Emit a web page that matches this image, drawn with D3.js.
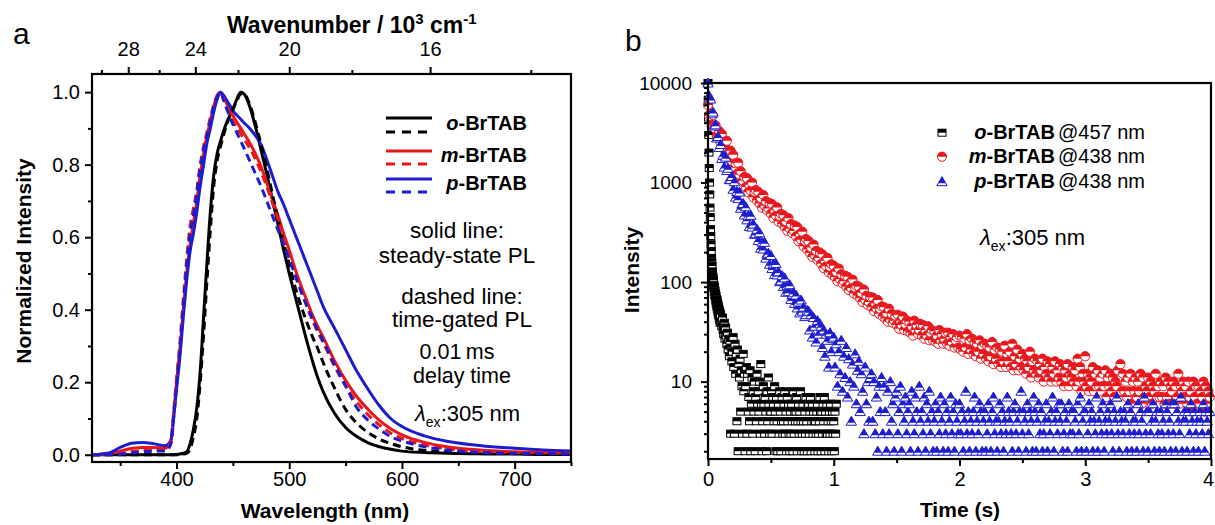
<!DOCTYPE html>
<html><head><meta charset="utf-8">
<script src="https://cdn.jsdelivr.net/npm/d3@7"></script>
<style>
html,body{margin:0;padding:0;background:#fff;}
svg{display:block;}
</style></head><body>
<svg id="c" width="1215" height="525"></svg>
<script>
// ---------------- DATA: panel a (normalized PL spectra) ----------------
const wavelength = [325,340,350,360,370,380,390,395,398,400,403,406,409,412,415,418,421,424,427,430,433,436,439,442,445,448,451,454,457,460,465,470,475,480,485,490,495,500,505,510,515,520,525,530,540,550,560,570,580,590,600,620,640,660,680,700,725,750];
const oSteady = [0,0,0,0,0,0,0,0,0,0.001,0.002,0.004,0.008,0.03,0.07,0.13,0.23,0.38,0.53,0.67,0.77,0.83,0.865,0.895,0.92,0.94,0.96,0.985,1.0,0.995,0.96,0.905,0.84,0.775,0.705,0.635,0.565,0.5,0.44,0.38,0.32,0.265,0.215,0.175,0.115,0.075,0.05,0.033,0.022,0.015,0.01,0.006,0.004,0.003,0.002,0.002,0.001,0.001];
const oGated  = [0,0,0,0,0,0,0,0,0,0,0.001,0.002,0.004,0.015,0.05,0.1,0.2,0.33,0.48,0.62,0.74,0.81,0.85,0.885,0.915,0.94,0.96,0.98,0.995,0.995,0.965,0.915,0.855,0.79,0.72,0.65,0.585,0.525,0.465,0.415,0.37,0.33,0.295,0.255,0.185,0.125,0.087,0.061,0.043,0.031,0.022,0.012,0.007,0.005,0.004,0.003,0.002,0.002];
const mSteady = [0,0.003,0.01,0.017,0.02,0.02,0.018,0.04,0.13,0.2,0.29,0.4,0.5,0.58,0.64,0.7,0.77,0.83,0.88,0.92,0.96,0.99,1.0,0.985,0.965,0.945,0.93,0.915,0.9,0.885,0.86,0.83,0.795,0.75,0.705,0.66,0.61,0.565,0.515,0.47,0.43,0.39,0.355,0.325,0.26,0.205,0.16,0.125,0.095,0.072,0.055,0.034,0.022,0.015,0.011,0.008,0.006,0.005];
const mGated  = [0,0,0.003,0.008,0.012,0.014,0.012,0.04,0.14,0.21,0.31,0.43,0.54,0.63,0.68,0.73,0.8,0.85,0.89,0.93,0.965,0.99,1.0,0.98,0.955,0.935,0.915,0.9,0.885,0.87,0.845,0.815,0.78,0.74,0.695,0.65,0.6,0.55,0.5,0.455,0.415,0.375,0.34,0.31,0.245,0.19,0.145,0.11,0.082,0.06,0.045,0.027,0.017,0.011,0.008,0.006,0.005,0.004];
const pSteady = [0,0.005,0.02,0.032,0.034,0.03,0.025,0.04,0.12,0.18,0.27,0.38,0.48,0.56,0.61,0.67,0.74,0.8,0.86,0.9,0.945,0.98,1.0,0.99,0.975,0.96,0.945,0.935,0.925,0.915,0.9,0.88,0.855,0.815,0.77,0.725,0.69,0.65,0.61,0.57,0.53,0.49,0.45,0.41,0.35,0.29,0.23,0.18,0.135,0.1,0.078,0.052,0.037,0.028,0.022,0.018,0.013,0.01];
const pGated  = [0,0,0.002,0.005,0.008,0.01,0.01,0.03,0.12,0.19,0.29,0.41,0.52,0.61,0.66,0.72,0.79,0.84,0.88,0.92,0.96,0.985,1.0,0.975,0.95,0.925,0.905,0.885,0.865,0.845,0.81,0.775,0.74,0.7,0.66,0.62,0.58,0.54,0.497,0.455,0.415,0.38,0.345,0.315,0.25,0.19,0.13,0.095,0.07,0.05,0.038,0.022,0.013,0.008,0.005,0.004,0.003,0.002];
const wavelengthTicks = [400,500,600,700];
const wavelengthMinor = [350,450,550,650,750];
const intensityTicksA = [0,0.2,0.4,0.6,0.8,1.0];
const intensityMinorA = [0.1,0.3,0.5,0.7,0.9];
const wavenumberTicks = [28,24,20,16];
const wavenumberMinor = [30,26,22,18,14];
const seriesNames = ["o","m","p"];

// ---------------- DATA: panel b (decay, counts) ----------------
const oEarlyStep = 0.002;   // sampling of first 0.1 s of o-BrTAB
const oTailStart = 0.10;
const oTailStep = 0.005;
const decayStep = 0.01;
const oDecayEarly = [10000,6800,4500,3000,2000,1400,1000,760,560,450,340,290,240,205,175,160,145,128,120,108,112,95,104,88,93,80,89,74,82,70,77,65,73,61,68,57,66,54,62,51,59,48,56,46,53,43,51,41,49,39];
const oDecayTail = [47,40,36,44,33,30,39,27,35,29,
 24,31,21,27,18,25,3,22,16,20,
 28,14,3,24,12,19,4,21,2,15,
 11,17,5,13,9,3,19,8,12,2,
 9,14,3,12,5,7,4,13,2,6,
 11,3,8,5,10,2,7,4,12,6,
 8,5,10,3,15,6,2,4,9,6,
 3,7,5,2,8,4,11,6,3,5,
 5,8,3,7,6,4,9,5,2,7,
 4,2,6,3,8,5,2,4,7,3,
 4,6,8,3,5,2,7,4,6,3,
 2,5,3,6,4,2,8,3,5,4,
 5,7,2,4,6,3,5,8,4,2,
 3,6,4,2,5,3,7,4,2,6,
 6,3,5,7,2,4,6,3,5,4,
 2,4,3,5,6,2,3,4,7,5,
 2,5,3,6,4,7,2,5,3,6,
 3,4,2,5,3,6,4,2,5,3,
 4,2,5,3,6];
const mDecay = [6000,4660,4940,3740,4740,3530,3760,2930,2960,3280,
 2520,3080,2200,2570,2220,2630,1840,2050,2090,1600,
 1900,1410,1560,1220,1580,1200,1300,1020,1040,1140,
 900,1110,800,950,830,1000,710,810,840,660,
 806,615,698,559,748,583,650,526,550,622,
 486,606,442,526,465,563,405,462,486,384,
 470,359,409,328,439,343,383,311,326,370,
 288,357,258,305,267,321,229,260,271,212,
 258,196,222,179,238,185,206,167,175,198,
 153,190,138,164,144,175,125,143,151,118,
 146,112,127,102,137,107,120,97,102,116,
 90,113,83,99,87,106,77,88,92,73,
 90,69,78,63,84,66,73,59,63,71,
 56,70,51,61,54,66,48,54,57,45,
 56,43,49,40,54,42,48,39,41,46,
 37,47,34,41,37,45,33,38,41,32,
 40,31,36,29,41,33,37,30,33,38,
 29,37,27,33,29,36,26,31,33,26,
 32,25,29,24,33,26,30,24,27,31,
 24,31,23,28,25,30,22,26,28,22,
 29,21,28,20,27,22,30,19,26,21,
 27,19,25,18,24,20,26,17,23,19,
 24,17,23,16,22,18,25,15,21,17,
 22,15,21,14,20,16,23,14,19,16,
 20,14,24,13,18,15,21,13,17,14,
 19,13,17,12,16,14,20,11,16,13,
 17,12,16,11,15,13,17,10,14,12,
 16,11,15,10,14,12,16,10,13,11,
 15,10,14,9,13,11,15,9,12,11,
 14,10,13,9,17,10,14,8,12,10,
 18,9,12,8,11,10,14,8,12,9,
 13,9,11,8,12,9,13,7,11,9,
 12,8,11,7,10,9,13,7,15,8,
 12,8,10,7,11,8,12,6,10,8,
 11,7,10,8,12,6,11,7,9,8,
 11,7,10,6,9,8,12,7,9,7,
 10,7,9,6,11,7,10,6,9,8,
 10,6,9,7,12,6,9,8,10,7,
 9,6,10,7,8,5,10,7,9,6,
 9,6,8,7,10,5,9,6,8,7];
const pDecay = [10000,7400,6900,4900,5100,3700,3800,2800,2900,2250,
 2410,1740,1880,1430,1800,1320,1390,1070,1070,1150,
 855,1020,714,814,689,802,552,607,616,472,
 571,422,464,361,468,357,383,302,306,339,
 261,313,219,252,215,251,174,192,195,151,
 185,137,152,119,154,118,127,101,103,116,
 90,110,79,92,80,94,67,75,78,61,
 74,55,63,49,66,51,56,45,47,52,
 51,33,47,28,44,36,25,41,30,38,
 36,22,33,18,30,26,14,31,20,27,
 28,14,24,9,20,12,26,8,18,11,
 22,7,17,10,4,15,9,19,6,13,
 16,5,12,8,3,14,6,10,4,11,
 12,4,10,3,7,2,9,5,11,3,
 9,5,2,8,3,10,4,6,2,7,
 8,3,5,9,2,6,4,7,3,5,
 6,2,8,4,3,7,5,2,9,4,
 5,3,7,2,6,4,8,3,5,2,
 4,6,2,5,3,7,4,2,6,3,
 5,2,4,7,3,5,2,6,4,3,
 6,3,5,2,4,8,3,5,2,4,
 3,5,7,2,4,3,6,5,2,4,
 5,2,3,6,4,2,5,7,3,4,
 2,4,6,3,5,2,4,3,7,5,
 4,3,2,5,6,3,4,2,5,8,
 3,5,4,2,6,3,5,4,2,7,
 5,2,4,6,3,5,2,3,4,6,
 2,4,3,5,7,2,4,5,3,6,
 4,6,2,3,5,4,2,6,3,5,
 3,5,4,2,6,3,7,2,4,5,
 5,2,3,6,4,5,2,4,3,7,
 2,4,5,3,6,2,4,3,5,4,
 6,3,2,5,4,7,3,2,5,4,
 3,5,4,2,6,3,5,2,4,3,
 4,2,6,3,5,4,2,7,3,5,
 2,5,3,4,6,2,4,5,3,2,
 5,3,4,2,6,5,3,4,2,6,
 3,6,2,5,4,3,7,2,4,5,
 4,2,5,3,6,4,2,5,3,4,
 2,5,4,3,6,2,5,4,3,5];
const timeTicks = [0,1,2,3,4];
const timeMinor = [0.5,1.5,2.5,3.5];
const countTicks = [10,100,1000,10000];
const decayLabels = [["o","@457 nm"],["m","@438 nm"],["p","@438 nm"]];

// ---------------- RENDER ----------------
const FONT = '"Liberation Sans", Arial, Helvetica, sans-serif';
const RED = "#e8171d", BLUE = "#1d1dcf", BLACK = "#000";
const svg = d3.select("#c").attr("font-family", FONT);

function styleAxis(sel, fs) {
  sel.select(".domain").remove();
  sel.selectAll("line").attr("stroke", "#000").attr("stroke-width", 2);
  sel.selectAll("text").attr("font-size", fs).attr("font-family", FONT).attr("fill", "#000");
}

// ===== Panel a =====
const xa = d3.scaleLinear().domain([325, 750]).range([92, 571]);
const ya = d3.scaleLinear().domain([-0.02, 1.05]).range([462, 74]);
const ga = svg.append("g");

ga.append("clipPath").attr("id", "clipA").append("rect")
  .attr("x", xa.range()[0]).attr("y", ya.range()[1])
  .attr("width", xa.range()[1] - xa.range()[0]).attr("height", ya.range()[0] - ya.range()[1]);

const lineA = d3.line().x((d, i) => xa(wavelength[i])).y(d => ya(d)).curve(d3.curveMonotoneX);
const curves = [
  { v: oSteady, c: BLACK, dash: null }, { v: mSteady, c: RED, dash: null }, { v: pSteady, c: BLUE, dash: null },
  { v: oGated, c: BLACK, dash: "8,5" }, { v: mGated, c: RED, dash: "8,5" }, { v: pGated, c: BLUE, dash: "8,5" }
];
const gc = ga.append("g").attr("clip-path", "url(#clipA)");
curves.forEach(s => {
  gc.append("path").attr("d", lineA(s.v)).attr("fill", "none").attr("stroke", s.c)
    .attr("stroke-width", 3).attr("stroke-dasharray", s.dash).attr("stroke-linejoin", "round");
});

// axes a
ga.append("g").attr("transform", `translate(${xa.range()[0]},0)`)
  .call(d3.axisLeft(ya).tickValues(intensityTicksA).tickFormat(d3.format(".1f")).tickSize(7).tickPadding(5))
  .call(s => styleAxis(s, 20));
ga.append("g").attr("transform", `translate(${xa.range()[0]},0)`)
  .call(d3.axisLeft(ya).tickValues(intensityMinorA).tickFormat("").tickSize(4)).call(s => styleAxis(s, 20));
ga.append("g").attr("transform", `translate(0,${ya.range()[0]})`)
  .call(d3.axisBottom(xa).tickValues(wavelengthTicks).tickSize(7).tickPadding(3))
  .call(s => styleAxis(s, 20));
ga.append("g").attr("transform", `translate(0,${ya.range()[0]})`)
  .call(d3.axisBottom(xa).tickValues(wavelengthMinor).tickFormat("").tickSize(4)).call(s => styleAxis(s, 20));
ga.append("g").attr("transform", `translate(0,${ya.range()[1]})`)
  .call(d3.axisTop(xa).tickValues(wavenumberTicks.map(k => 1e4 / k)).tickFormat((d, i) => wavenumberTicks[i]).tickSize(7).tickPadding(11))
  .call(s => styleAxis(s, 20));
ga.append("g").attr("transform", `translate(0,${ya.range()[1]})`)
  .call(d3.axisTop(xa).tickValues(wavenumberMinor.map(k => 1e4 / k)).tickFormat("").tickSize(4)).call(s => styleAxis(s, 20));
ga.append("rect").attr("x", xa.range()[0]).attr("y", ya.range()[1])
  .attr("width", xa.range()[1] - xa.range()[0]).attr("height", ya.range()[0] - ya.range()[1])
  .attr("fill", "none").attr("stroke", "#000").attr("stroke-width", 2.2);

// titles a
ga.append("text").attr("x", 13).attr("y", 44).attr("font-size", 30).text("a");
const wt = ga.append("text").attr("x", 227).attr("y", 33).attr("font-size", 23).attr("font-weight", "bold");
wt.append("tspan").text("Wavenumber / 10");
wt.append("tspan").attr("font-size", 15).attr("dy", -9).text("3");
wt.append("tspan").attr("dy", 9).text(" cm");
wt.append("tspan").attr("font-size", 15).attr("dy", -9).text("-1");
ga.append("text").attr("x", 325).attr("y", 518).attr("text-anchor", "middle")
  .attr("font-size", 21).attr("font-weight", "bold").text("Wavelength (nm)");
ga.append("text").attr("transform", "translate(31,261) rotate(-90)").attr("text-anchor", "middle")
  .attr("font-size", 21).attr("font-weight", "bold").text("Normalized Intensity");

// legend a
const legA = ga.append("g");
const legRows = [{ c: BLACK, y: [118, 132], ty: 130 }, { c: RED, y: [151, 164], ty: 162 }, { c: BLUE, y: [179, 192], ty: 190 }];
legRows.forEach((r, i) => {
  legA.append("line").attr("x1", 386).attr("x2", 432).attr("y1", r.y[0]).attr("y2", r.y[0]).attr("stroke", r.c).attr("stroke-width", 3.2);
  legA.append("line").attr("x1", 386).attr("x2", 432).attr("y1", r.y[1]).attr("y2", r.y[1]).attr("stroke", r.c).attr("stroke-width", 3.2).attr("stroke-dasharray", "9,7");
  const t = legA.append("text").attr("x", 527).attr("y", r.ty).attr("text-anchor", "end").attr("font-size", 20).attr("font-weight", "bold");
  t.append("tspan").attr("font-style", "italic").text(seriesNames[i]);
  t.append("tspan").text("-BrTAB");
});
const notes = [["solid line:", 457, 238, 22.5], ["steady-state PL", 457, 263, 22.5], ["dashed line:", 462, 304, 22.5], ["time-gated PL", 462, 327, 22.5], ["0.01\u2009ms", 457, 359, 21.5], ["delay time", 462, 383, 21.5]];
notes.forEach(n => ga.append("text").attr("x", n[1]).attr("y", n[2]).attr("text-anchor", "middle").attr("font-size", n[3]).text(n[0]));
function lambdaEx(g, x, y) {
  const t = g.append("text").attr("x", x).attr("y", y).attr("font-size", 22);
  t.append("tspan").attr("font-style", "italic").text("\u03BB");
  t.append("tspan").attr("font-size", 14).attr("dy", 6).text("ex");
  t.append("tspan").attr("dy", -6).text(":305 nm");
}
lambdaEx(ga, 415, 421);

// ===== Panel b =====
const xb = d3.scaleLinear().domain([0, 4]).range([708, 1211]);
const yb = d3.scaleLog().domain([1.67, 10000]).range([459, 83]);
const gb = svg.append("g");

// marker definitions (half-filled, Origin style)
const defs = svg.append("defs");
const mo = defs.append("g").attr("id", "mk-o");
mo.append("rect").attr("x", -4).attr("y", -3.5).attr("width", 8).attr("height", 7).attr("fill", "#fff");
mo.append("rect").attr("x", -4).attr("y", -3.5).attr("width", 8).attr("height", 3.5).attr("fill", BLACK);
mo.append("rect").attr("x", -4).attr("y", -3.5).attr("width", 8).attr("height", 7).attr("fill", "none").attr("stroke", BLACK).attr("stroke-width", 1);
const mm = defs.append("g").attr("id", "mk-m");
mm.append("circle").attr("r", 4.6).attr("fill", "#fff");
mm.append("path").attr("d", "M-4.6,0A4.6,4.6 0 0,1 4.6,0Z").attr("fill", RED);
mm.append("circle").attr("r", 4.6).attr("fill", "none").attr("stroke", RED).attr("stroke-width", 1);
const mp = defs.append("g").attr("id", "mk-p");
mp.append("path").attr("d", "M0,-5L5.2,4L-5.2,4Z").attr("fill", "#fff");
mp.append("path").attr("d", "M0,-5L3.8,1.5L-3.8,1.5Z").attr("fill", BLUE);
mp.append("path").attr("d", "M0,-5L5.2,4L-5.2,4Z").attr("fill", "none").attr("stroke", BLUE).attr("stroke-width", 1);

const oPts = oDecayEarly.map((v, i) => ({ t: i * oEarlyStep, v }))
  .concat(oDecayTail.map((v, i) => ({ t: oTailStart + i * oTailStep, v })));
const mPts = mDecay.map((v, i) => ({ t: i * decayStep, v }));
const pPts = pDecay.map((v, i) => ({ t: i * decayStep, v }));
[[oPts, "#mk-o"], [mPts, "#mk-m"], [pPts, "#mk-p"]].forEach(([pts, id]) => {
  gb.append("g").selectAll("use").data(pts).join("use")
    .attr("href", id).attr("x", d => xb(d.t)).attr("y", d => yb(d.v));
});

// axes b
const minorCounts = [];
[1, 10, 100, 1000].forEach(dec => { for (let k = 2; k <= 9; k++) { const v = dec * k; if (v >= yb.domain()[0]) minorCounts.push(v); } });
gb.append("g").attr("transform", `translate(${xb.range()[0]},0)`)
  .call(d3.axisLeft(yb).tickValues(countTicks).tickFormat(d3.format("d")).tickSize(7).tickPadding(9))
  .call(s => styleAxis(s, 19));
gb.append("g").attr("transform", `translate(${xb.range()[0]},0)`)
  .call(d3.axisLeft(yb).tickValues(minorCounts).tickFormat("").tickSize(4)).call(s => styleAxis(s, 19));
gb.append("g").attr("transform", `translate(0,${yb.range()[0]})`)
  .call(d3.axisBottom(xb).tickValues(timeTicks).tickFormat(d3.format("d")).tickSize(7).tickPadding(6))
  .call(s => styleAxis(s, 20))
  .call(s => s.selectAll(".tick").filter(d => d === 4).select("text").attr("dx", -3));
gb.append("g").attr("transform", `translate(0,${yb.range()[0]})`)
  .call(d3.axisBottom(xb).tickValues(timeMinor).tickFormat("").tickSize(4)).call(s => styleAxis(s, 20));
gb.append("rect").attr("x", xb.range()[0]).attr("y", yb.range()[1])
  .attr("width", xb.range()[1] - xb.range()[0]).attr("height", yb.range()[0] - yb.range()[1])
  .attr("fill", "none").attr("stroke", "#000").attr("stroke-width", 2.2);

gb.append("text").attr("x", 625).attr("y", 51).attr("font-size", 30).text("b");
gb.append("text").attr("x", 960).attr("y", 517).attr("text-anchor", "middle")
  .attr("font-size", 21).attr("font-weight", "bold").text("Time (s)");
gb.append("text").attr("transform", "translate(639,270) rotate(-90)").attr("text-anchor", "middle")
  .attr("font-size", 21).attr("font-weight", "bold").text("Intensity");

// legend b
const legYs = [132.7, 156.7, 181.7];
const legIds = ["#mk-o", "#mk-m", "#mk-p"];
decayLabels.forEach((lab, i) => {
  gb.append("use").attr("href", legIds[i]).attr("x", 942).attr("y", legYs[i]);
  const t = gb.append("text").attr("x", 1055).attr("y", legYs[i] + 6.5).attr("text-anchor", "end").attr("font-size", 20).attr("font-weight", "bold");
  t.append("tspan").attr("font-style", "italic").text(lab[0]);
  t.append("tspan").text("-BrTAB");
  gb.append("text").attr("x", 1058).attr("y", legYs[i] + 6.5).attr("font-size", 20).text(lab[1]);
});
lambdaEx(gb, 980, 245);
</script>
</body></html>
